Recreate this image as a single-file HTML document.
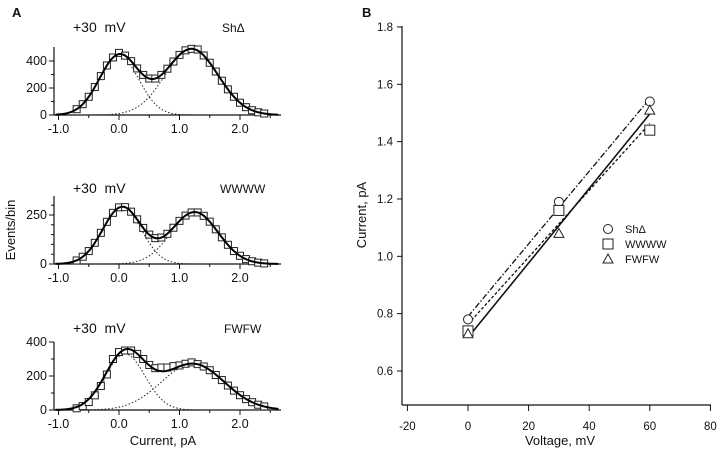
<!DOCTYPE html>
<html><head><meta charset="utf-8"><style>
body{margin:0;background:#fff}
svg{display:block;font-family:"Liberation Sans",sans-serif}
</style></head><body>
<svg id="s" width="720" height="450" viewBox="0 0 720 450"></svg>
<script>
// ---------- Panel A data ----------
const binCenters = [-0.7,-0.6,-0.5,-0.4,-0.3,-0.2,-0.1,0,0.1,0.2,0.3,0.4,0.5,0.6,0.7,0.8,0.9,1.0,1.1,1.2,1.3,1.4,1.5,1.6,1.7,1.8,1.9,2.0,2.1,2.2,2.3,2.4];
const countsSh = [43,80,135,207,288,367,426,460,440,399,345,297,270,270,297,343,396,445,479,490,485,441,387,322,254,190,135,91,58,35,20,11];
const countsWWWW = [18,37,66,108,159,215,261,289,290,267,228,184,150,132,135,154,185,220,247,263,263,246,216,177,136,98,66,42,25,14,7,3];
const countsFWFW = [10,23,47,86,141,209,300,341,350,350,330,300,265,246,250,250,258,262,272,280,270,256,234,206,176,144,114,87,64,46,31,21];
// gaussian fit parameters [amp, mean, sd] for the two components
const fitSh = [[440,0.0,0.325],[490,1.2,0.436]];
const fitWWWW = [[290,0.05,0.32],[265,1.25,0.39]];
const fitFWFW = [[330,0.1,0.33],[272,1.22,0.52]];
const aTicksX = [-1.0,0.0,1.0,2.0];
// ---------- Panel B data ----------
const voltages = [0,30,60];
const currSh = [0.78,1.19,1.54];
const currWWWW = [0.74,1.16,1.44];
const currFWFW = [0.73,1.08,1.51];
const bTicksX = [-20,0,20,40,60,80];
const bTicksY = [0.6,0.8,1.0,1.2,1.4,1.6,1.8];

const NS="http://www.w3.org/2000/svg";
const svg=document.getElementById('s');
function mk(tag,attrs,parent,text){const e=document.createElementNS(NS,tag);for(const k in attrs)e.setAttribute(k,attrs[k]);if(text!==undefined)e.textContent=text;(parent||svg).appendChild(e);return e;}

function txt(x,y,s,anchor,size,name,parent){
  const t=mk('text',{x:x,y:y,'text-anchor':anchor||'start','font-size':size||12,fill:'#111'},parent,s);
  
  
  return t;
}

// ---------- Panel A ----------
const ax=v=>119+v*60.5;
const panels=[
 {name:'sh',base:115,top:47,scale:54/400,yticks:[0,200,400],ymin:[100,300],counts:countsSh,fit:fitSh,label:'ShΔ',title:27},
 {name:'wwww',base:264,top:196,scale:49/250,yticks:[0,250],ymin:[50,100,150,200,300],counts:countsWWWW,fit:fitWWWW,label:'WWWW',title:188},
 {name:'fwfw',base:410,top:342,scale:68/400,yticks:[0,200,400],ymin:[100,300],counts:countsFWFW,fit:fitFWFW,label:'FWFW',title:328}
];
txt(12,17,'A','start',13,'panel-a-label').setAttribute('font-weight','bold');
panels.forEach(p=>{
  const g=mk('g',{});
  
  
  const ay=v=>p.base-v*p.scale;
  const yl=mk('line',{x1:54,y1:p.top,x2:54,y2:p.base,stroke:'#111','stroke-width':1.2},g);
  
  
  const xl=mk('line',{x1:54,y1:p.base,x2:281,y2:p.base,stroke:'#111','stroke-width':1.2},g);
  
  
  p.yticks.forEach(v=>{mk('line',{x1:49,x2:54,y1:ay(v),y2:ay(v),stroke:'#111'},g);txt(47,ay(v)+4,String(v),'end',12.5,'y-tick-'+p.name,g);});
  p.ymin.forEach(v=>mk('line',{x1:51,x2:54,y1:ay(v),y2:ay(v),stroke:'#111'},g));
  for(let v=-1;v<=2.5;v+=0.5){const big=Math.abs(v-Math.round(v))<1e-6;mk('line',{x1:ax(v),x2:ax(v),y1:p.base,y2:p.base+(big?5:3),stroke:'#111'},g);}
  aTicksX.forEach(v=>txt(ax(v),p.base+18,v.toFixed(1),'middle',12.5,'x-tick-'+p.name,g));
  const tt=txt(73,p.title+5,'+30  mV','start',14,'voltage-title-'+p.name,g);
  tt.setAttribute('style','white-space:pre');
  txt(p.name==='sh'?222:(p.name==='wwww'?220:224),p.title+5,p.label,'start',12,'construct-label-'+p.name,g);
  const G=(f,x)=>f[0]*Math.exp(-((x-f[1])**2)/(2*f[2]*f[2]));
  p.fit.forEach((f,i)=>{
    let d='';for(let x=-0.7;x<=2.65;x+=0.02){const y=G(f,x);d+=(d?'L':'M')+ax(x).toFixed(1)+','+ay(y).toFixed(1);}
    const c=mk('path',{d:d,fill:'none',stroke:'#222','stroke-width':1,'stroke-dasharray':'1.5,2'},g);
    
    
  });
  let sd='';const w=0.1;
  p.counts.forEach((c,i)=>{const x0=binCenters[i]-w/2,x1=binCenters[i]+w/2;sd+=(sd?'L':'M')+ax(x0)+','+ay(c)+'L'+ax(x1)+','+ay(c);});
  const st=mk('path',{d:sd,fill:'none',stroke:'#333','stroke-width':0.8},g);
  
  
  p.counts.forEach((c,i)=>{
    const r=mk('rect',{x:ax(binCenters[i])-3.5,y:ay(c)-3.5,width:7,height:7,fill:'#fff',stroke:'#222','stroke-width':1},g);
    
    
  });
  let d='';for(let x=-1.05;x<=2.65;x+=0.02){const y=G(p.fit[0],x)+G(p.fit[1],x);d+=(d?'L':'M')+ax(x).toFixed(1)+','+ay(y).toFixed(1);}
  const tf=mk('path',{d:d,fill:'none',stroke:'#000','stroke-width':2},g);
  
  
});
const eb=txt(15,230,'Events/bin','middle',13,'y-axis-title-a');
eb.setAttribute('transform','rotate(-90 15 230)');
txt(163,445,'Current, pA','middle',13,'x-axis-title-a');

// ---------- Panel B ----------
const bx=v=>468+v*3.03;
const by=v=>371-(v-0.6)*286.7;
txt(362,17,'B','start',13,'panel-b-label').setAttribute('font-weight','bold');
const gb=mk('g',{});


const byl=mk('line',{x1:402,y1:26,x2:402,y2:405,stroke:'#111','stroke-width':1.2},gb);


const bxl=mk('line',{x1:402,y1:405,x2:711,y2:405,stroke:'#111','stroke-width':1.2},gb);


bTicksY.forEach(v=>{mk('line',{x1:397,x2:402,y1:by(v),y2:by(v),stroke:'#111'},gb);txt(393,by(v)+4,v.toFixed(1),'end',11.5,'y-tick-b',gb);});
bTicksX.forEach(v=>{mk('line',{x1:bx(v),x2:bx(v),y1:405,y2:411,stroke:'#111'},gb);txt(bx(v),430,String(v),'middle',11.5,'x-tick-b',gb);});
const yt=txt(366,215,'Current, pA','middle',13,'y-axis-title-b');
yt.setAttribute('transform','rotate(-90 366 215)');
txt(560,445,'Voltage, mV','middle',13,'x-axis-title-b');

function fit(xs,ys){const n=xs.length;const mx=xs.reduce((a,b)=>a+b)/n,my=ys.reduce((a,b)=>a+b)/n;let num=0,den=0;xs.forEach((x,i)=>{num+=(x-mx)*(ys[i]-my);den+=(x-mx)**2;});const m=num/den;return [m,my-m*mx];}
const series=[
 {name:'sh',data:currSh,dash:'6,2,1.5,2',w:1.3,marker:'circle'},
 {name:'wwww',data:currWWWW,dash:'3,2',w:1.3,marker:'square'},
 {name:'fwfw',data:currFWFW,dash:'',w:1.6,marker:'triangle'}
];
function marker(type,x,y,parent){
  let e;
  if(type==='circle')e=mk('circle',{cx:x,cy:y,r:4.5,fill:'#fff',stroke:'#222','stroke-width':1},parent);
  else if(type==='square')e=mk('rect',{x:x-5,y:y-5,width:10,height:10,fill:'#fff',stroke:'#222','stroke-width':1},parent);
  else e=mk('polygon',{points:`${x},${y-5} ${x-5},${y+4} ${x+5},${y+4}`,fill:'#fff',stroke:'#222','stroke-width':1},parent);
  return e;
}
series.forEach(s=>{
  const [m,b]=fit(voltages,s.data);
  const l=mk('line',{x1:bx(0),y1:by(b),x2:bx(60),y2:by(b+60*m),stroke:'#111','stroke-width':s.w,'stroke-dasharray':s.dash},gb);
  
  
});
series.forEach(s=>{
  s.data.forEach((v,i)=>{
    const e=marker(s.marker,bx(voltages[i]),by(v),gb);
    
    
  });
});
const legendLabels=['ShΔ','WWWW','FWFW'];
series.forEach((s,i)=>{
  const y=229+i*15;
  const e=marker(s.marker,608,y,gb);
  
  
  txt(625,y+4,legendLabels[i],'start',11,'legend-entry-'+s.name,gb);
});
</script>
</body></html>
